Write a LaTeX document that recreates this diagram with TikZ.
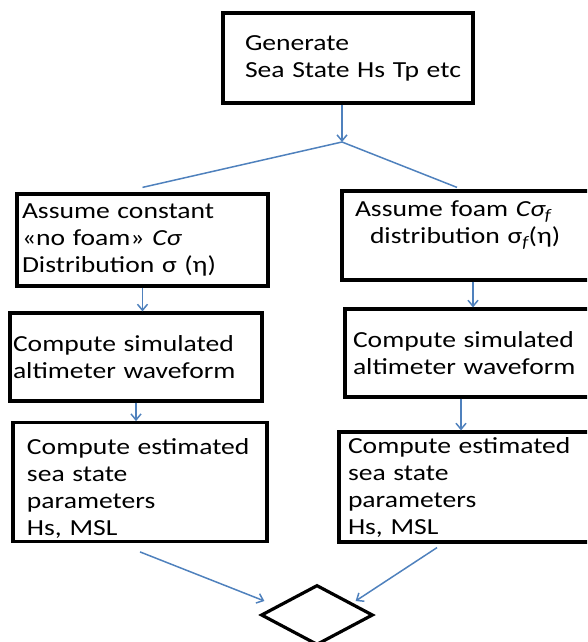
\documentclass[tikz,border=0pt]{standalone}
\usepackage{fontspec}
\setmainfont{Carlito}[FakeStretch=1.2]
\usetikzlibrary{arrows.meta, shapes.geometric}
\definecolor{flowblue}{RGB}{79,129,189}

\begin{document}
\begin{tikzpicture}[
        x=1pt, y=-1pt,
        box/.style={rectangle, draw, line width=3.2pt, align=left, font=\fontsize{23}{27}\selectfont},
        branch/.style={draw=flowblue, line width=1.5pt},
        flow/.style={branch, -{Straight Barb[length=6pt,width=10pt]}},
        decision/.style={diamond, draw, line width=3.2pt, inner sep=0pt}
    ]
    \useasboundingbox (0,0) rectangle (587,642);
    \clip (0,0) rectangle (587,642);

    \node[box, inner xsep=22pt, text width=206pt, minimum height=90pt] (gen) at (348,58)
        {Generate\\ Sea~State~Hs~Tp~etc};

    % two branches
    \node[box, inner xsep=5pt, text width=241pt, minimum height=92pt] (lbox1) at (142.5,240)
        {Assume constant\\ «no foam» {\itshape Cσ}\\ Distribution σ (η)};
    \node[box, inner xsep=13pt, text width=230pt, minimum height=89pt] (rbox1) at (470,235.5)
        {Assume foam {\itshape Cσ\textsubscript{f}}\\ \hspace*{15pt}distribution σ\textsubscript{\itshape f}(η)\\ \mbox{}};

    \node[box, inner xsep=3pt, text width=246pt, minimum height=88pt] (lbox2) at (136,357)
        {Compute simulated\\ altimeter waveform};
    \node[box, inner xsep=8pt, text width=237pt, minimum height=88pt] (rbox2) at (471.5,353)
        {Compute simulated\\ altimeter waveform};

    \node[box, inner xsep=14pt, text width=226pt, minimum height=110pt] (lbox3) at (140,482)
        {\\[1pt]Compute~estimated\\ sea state\\ parameters\\ Hs, MSL};
    \node[box, inner xsep=9pt, text width=241pt, minimum height=110pt] (rbox3) at (468.5,487)
        {Compute estimated\\ sea state\\ parameters\\ Hs, MSL};

    \node[decision, minimum width=112pt, minimum height=60pt] (dia) at (317,615) {};

    \coordinate (split) at (342,142);

    % connectors
    \draw[flow] (split |- gen.south) -- (split);
    \draw[branch] (split) -- ([yshift=5pt]lbox1.north);
    \draw[branch] (split) -- ([xshift=-13pt,yshift=2pt]rbox1.north);
    \draw[flow] (lbox1.south) -- (lbox1.south |- lbox2.north);
    \draw[flow] (lbox2.south) -- (lbox2.south |- lbox3.north);
    \draw[flow] ([xshift=3pt]rbox1.south) -- ([xshift=3pt]rbox1.south |- rbox2.north);
    \draw[flow] ([xshift=-10.5pt]rbox2.south) -- ([xshift=-10.5pt]rbox2.south |- rbox3.north);
    \draw[flow] ([yshift=-9pt]lbox3.south) -- ([xshift=5pt,yshift=14pt]dia.west);
    \draw[flow] ([xshift=-31.5pt,yshift=-4pt]rbox3.south) -- ([xshift=-19pt,yshift=14pt]dia.east);
\end{tikzpicture}
\end{document}
